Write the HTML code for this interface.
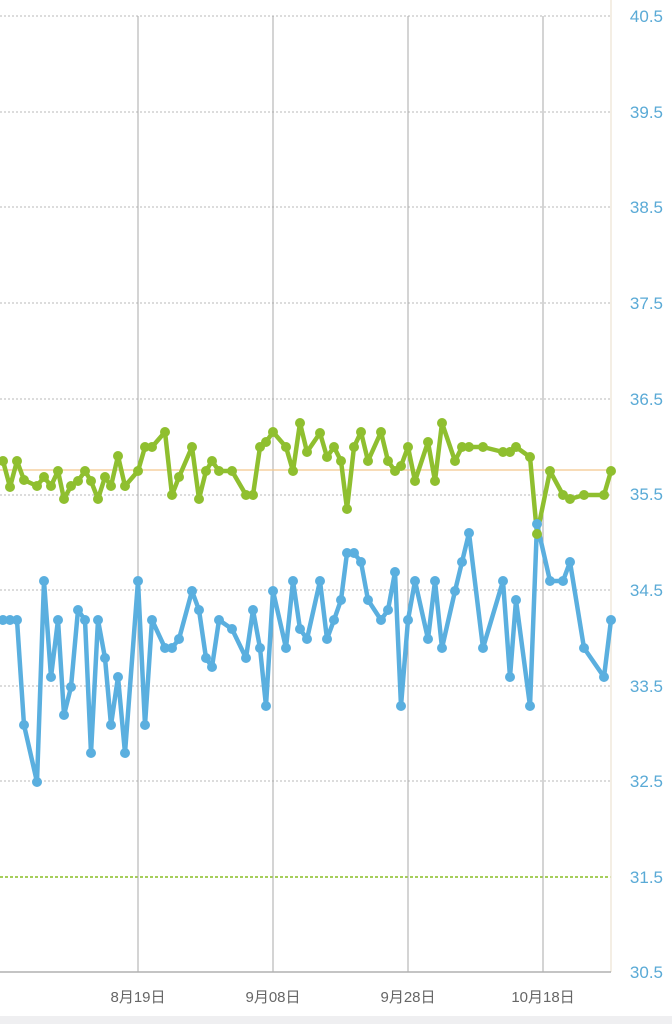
<!DOCTYPE html>
<html><head><meta charset="utf-8"><style>
html,body{margin:0;padding:0;background:#fff;width:672px;height:1024px;overflow:hidden}
</style></head><body>
<svg width="672" height="1024" xmlns="http://www.w3.org/2000/svg">
<rect x="0" y="1016" width="672" height="8" fill="#efeff1"/>
<g stroke="#b8b8b8" stroke-width="1" stroke-dasharray="2,2">
<line x1="0" y1="16" x2="611" y2="16"/><line x1="0" y1="112" x2="611" y2="112"/>
<line x1="0" y1="207" x2="611" y2="207"/><line x1="0" y1="303" x2="611" y2="303"/>
<line x1="0" y1="399" x2="611" y2="399"/><line x1="0" y1="495" x2="611" y2="495"/>
<line x1="0" y1="590" x2="611" y2="590"/><line x1="0" y1="686" x2="611" y2="686"/>
<line x1="0" y1="781" x2="611" y2="781"/>
</g>
<line x1="0" y1="877" x2="611" y2="877" stroke="#a6cf5a" stroke-width="2" stroke-dasharray="3,2"/>
<g stroke="#a8a8a8" stroke-width="1">
<line x1="138" y1="16" x2="138" y2="972"/><line x1="273" y1="16" x2="273" y2="972"/>
<line x1="408" y1="16" x2="408" y2="972"/><line x1="543" y1="16" x2="543" y2="972"/>
</g>
<line x1="611" y1="0" x2="611" y2="972" stroke="#f1e9dc" stroke-width="1.5"/>
<line x1="0" y1="972" x2="611" y2="972" stroke="#b0b0b0" stroke-width="1.5"/>
<line x1="0" y1="470" x2="611" y2="470" stroke="#f3c88e" stroke-width="1.2"/>
<g font-family="Liberation Sans, sans-serif" font-size="17" fill="#5aaad6" text-anchor="end">
<text x="663" y="22">40.5</text><text x="663" y="118">39.5</text><text x="663" y="213">38.5</text>
<text x="663" y="309">37.5</text><text x="663" y="405">36.5</text><text x="663" y="500">35.5</text>
<text x="663" y="596">34.5</text><text x="663" y="692">33.5</text><text x="663" y="787">32.5</text>
<text x="663" y="883">31.5</text><text x="663" y="978">30.5</text>
</g>
<g font-family="Liberation Sans, 'Noto Sans CJK JP', sans-serif" font-size="15" fill="#666" text-anchor="middle">
<text x="138" y="1002">8月19日</text><text x="273" y="1002">9月08日</text>
<text x="408" y="1002">9月28日</text><text x="543" y="1002">10月18日</text>
</g>
<g id="g">
<polyline fill="none" stroke="#8fbf2f" stroke-width="4.5" stroke-linejoin="round" points="3,461 10,487 17,461 24,480 37,486 44,477 51,486 58,471 64,499 71,486 78,481 85,471 91,481 98,499 105,477 111,486 118,456 125,486 138,471 145,447 152,447 165,432 172,495 179,477 192,447 199,499 206,471 212,461 219,471 232,471 246,495 253,495 260,447 266,442 273,432 286,447 293,471 300,423 307,452 320,433 327,457 334,447 341,461 347,509 354,447 361,432 368,461 381,432 388,461 395,471 401,466 408,447 415,481 428,442 435,481 442,423 455,461 462,447 469,447 483,447 503,452 510,452 516,447 530,457 537,534 550,471 563,495 570,499 584,495 604,495 611,471"/>
<polyline fill="none" stroke="#5aafdf" stroke-width="4.5" stroke-linejoin="round" points="3,620 10,620 17,620 24,725 37,782 44,581 51,677 58,620 64,715 71,687 78,610 85,620 91,753 98,620 105,658 111,725 118,677 125,753 138,581 145,725 152,620 165,648 172,648 179,639 192,591 199,610 206,658 212,667 219,620 232,629 246,658 253,610 260,648 266,706 273,591 286,648 293,581 300,629 307,639 320,581 327,639 334,620 341,600 347,553 354,553 361,562 368,600 381,620 388,610 395,572 401,706 408,620 415,581 428,639 435,581 442,648 455,591 462,562 469,533 483,648 503,581 510,677 516,600 530,706 537,524 550,581 563,581 570,562 584,648 604,677 611,620"/>
</g>
<script>
(function(){var ps=document.querySelectorAll('polyline'),ns='http://www.w3.org/2000/svg';
ps.forEach(function(p){var c=p.getAttribute('stroke');p.getAttribute('points').trim().split(/\s+/).forEach(function(s){var a=s.split(',');var e=document.createElementNS(ns,'circle');e.setAttribute('cx',a[0]);e.setAttribute('cy',a[1]);e.setAttribute('r','5');e.setAttribute('fill',c);p.parentNode.appendChild(e);});});})();
</script>
</svg>
</body></html>
